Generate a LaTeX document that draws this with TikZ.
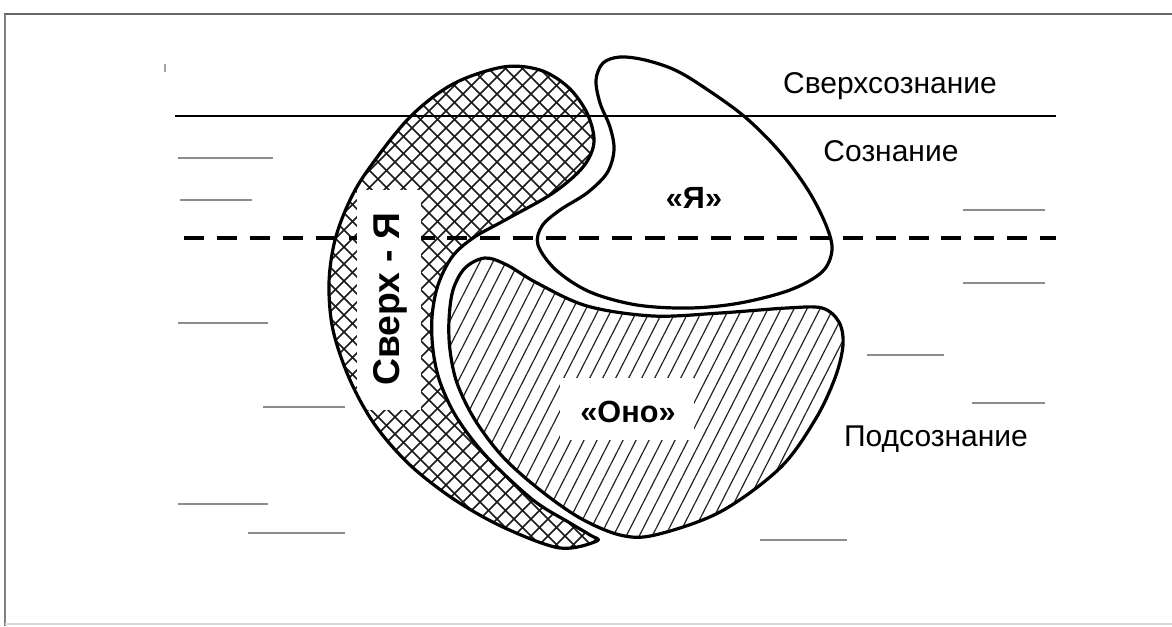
\documentclass[tikz,border=0pt]{standalone}
\usepackage{fontspec}
\setmainfont{Liberation Sans}
\begin{document}
\begin{tikzpicture}[x=0.75pt,y=-0.75pt,
  outline/.style={line width=2.4pt,line join=round},
  gline/.style={line width=1.4pt,draw=black!45},
  xhatch/.style={line width=1.2pt,draw=black!90},
  shatch/.style={line width=0.9pt,draw=black!85},
  lbl/.style={font=\fontsize{22.5}{26}\selectfont,inner sep=0pt},
  blbl/.style={font=\bfseries\fontsize{23}{26}\selectfont,inner sep=0pt},
  whitebox/.style={fill=white,draw=none}]
\useasboundingbox (0,0) rectangle (1172,626);
\fill[white] (0,0) rectangle (1172,626);
% frame
\draw[line width=1.5pt,draw=black!60] (4,14) -- (1172,14);
\draw[line width=1.8pt,draw=black!50] (5,14) -- (5,626);
\draw[line width=1pt,draw=black!15] (5,624) -- (1172,624);
\draw[line width=1pt,draw=black!35] (165,64) -- (165,72);
% shapes
\def\crescentpath{plot[smooth cycle,tension=0.55] coordinates {
 (597,541) (560,548) (505,528) (455,500) (410,465) (375,425) (350,380)
 (333,330) (329,283) (335,240) (350,200) (370,167) (410,117) (453,84)
 (503,67) (540,70) (568,87) (587,113) (594,142) (583,167) (553,193)
 (507,219) (473,238) (452,257) (438,285) (432,317) (433,350) (440,382)
 (457,418) (487,457) (533,500) (570,523) (590,535)}}
\def\onopath{plot[smooth cycle,tension=0.55] coordinates {
 (485,258) (507,265) (537,283) (587,306) (653,316) (720,313) (787,308)
 (822,308) (839,322) (843,345) (835,378) (815,420) (780,468) (720,512)
 (655,535) (620,535) (580,518) (540,490) (503,457) (475,420) (457,383)
 (450,350) (449,320) (453,290) (465,268)}}
\def\yapath{plot[smooth cycle,tension=0.55] coordinates {
 (603,63) (620,57) (645,60) (675,70) (705,88) (745,117) (780,152)
 (808,190) (826,225) (832,250) (822,272) (790,290) (740,303) (690,308)
 (637,305) (590,292) (556,270) (538,245) (542,226) (560,210) (587,193)
 (607,173) (614,150) (610,127) (600,103) (596,80)}}
% hatching
\begin{scope}
 \clip \crescentpath;
 \foreach \c in {370,387,...,1180} \draw[xhatch] (\c,0) -- (\c-640,640);
 \foreach \c in {-90,-73,...,520} \draw[xhatch] (\c,0) -- (\c+640,640);
\end{scope}
\begin{scope}
 \clip \onopath;
 \foreach \c in {250,263,...,880} \draw[shatch] (\c,560) -- ++(158,-310);
\end{scope}
% level lines
\coordinate (sl) at (175,116);
\coordinate (sr) at (1056,116);
\coordinate (dl) at (184,238);
\coordinate (dr) at (1056,238);
\draw[line width=2.2pt] (sl) -- (sr);
\draw[line width=3pt,dash pattern=on 15pt off 9.7pt] (dl) -- (dr);
% white label boxes
\fill[whitebox] (357,190) rectangle (421,410);
\fill[whitebox] (560,378) rectangle (694,440);
% outlines
\draw[outline] \crescentpath;
\draw[outline] \onopath;
\draw[outline] \yapath;
% short gray strokes
\draw[gline] (178,158) -- (273,158);
\draw[gline] (180,200) -- (252,200);
\draw[gline] (178,323) -- (268,323);
\draw[gline] (263,407) -- (345,407);
\draw[gline] (178,504) -- (268,504);
\draw[gline] (248,533) -- (345,533);
\draw[gline] (963,210) -- (1045,210);
\draw[gline] (963,283) -- (1045,283);
\draw[gline] (867,355) -- (944,355);
\draw[gline] (972,403) -- (1045,403);
\draw[gline] (760,540) -- (847,540);
% labels
\node[lbl] (nsverkh) at (890,86) {Сверхсознание};
\node[lbl] (nsoz) at (891,151) {Сознание};
\node[lbl] (npod) at (936,439) {Подсознание};
\node[blbl] (nya) at (694,198) {«Я»};
\node[blbl] (nono) at (628,412) {«Оно»};
\node[font=\bfseries\fontsize{28}{30}\selectfont,inner sep=0pt,rotate=90] (nsuper) at (390,299) {Сверх - Я};
\end{tikzpicture}
\end{document}
